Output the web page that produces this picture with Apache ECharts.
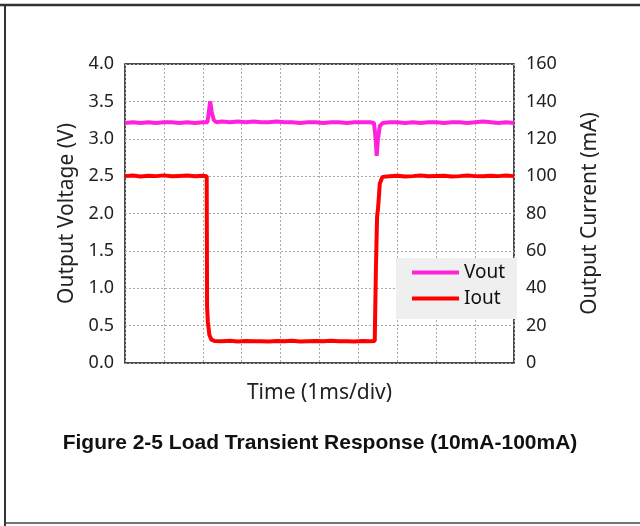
<!DOCTYPE html>
<html style="height: 100%">
<head>
    <meta charset="utf-8">
</head>
<body style="height: 100%; margin: 0; background: #fff">
<div id="container" style="width: 640px; height: 526px"></div>
<script src="https://cdn.jsdelivr.net/npm/echarts@6/dist/echarts.min.js"></script>
<script type="text/javascript">
    // time in ms (1 ms per division)
    var voutTime = [0, 0.2, 0.4, 0.6, 0.8, 1.0, 1.2, 1.4, 1.6, 1.8, 2.0, 2.12, 2.16, 2.19, 2.23, 2.28, 2.35,
        2.5, 2.7, 2.9, 3.1, 3.3, 3.5, 3.7, 3.9, 4.1, 4.3, 4.5, 4.7, 4.9, 5.1, 5.3, 5.5, 5.7, 5.9, 6.1, 6.3, 6.4,
        6.44, 6.47, 6.5, 6.55, 6.62, 6.8, 7.0, 7.2, 7.4, 7.6, 7.8, 8.0, 8.2, 8.4, 8.6, 8.8, 9.0, 9.2, 9.4, 9.6, 9.8, 10];
    var voutValue = [3.21, 3.22, 3.21, 3.22, 3.21, 3.22, 3.22, 3.21, 3.22, 3.21, 3.22, 3.22, 3.38, 3.50, 3.36, 3.25, 3.22,
        3.23, 3.22, 3.23, 3.22, 3.23, 3.22, 3.22, 3.23, 3.22, 3.22, 3.21, 3.22, 3.22, 3.21, 3.22, 3.22, 3.21, 3.22, 3.22, 3.22, 3.21,
        3.02, 2.77, 2.98, 3.17, 3.21, 3.22, 3.22, 3.21, 3.22, 3.21, 3.22, 3.22, 3.21, 3.22, 3.22, 3.21, 3.22, 3.23, 3.22, 3.21, 3.22, 3.21];

    var ioutTime = [0, 0.2, 0.4, 0.6, 0.8, 1.0, 1.2, 1.4, 1.6, 1.8, 2.0, 2.1, 2.11, 2.13, 2.17, 2.22, 2.3, 2.5,
        2.7, 2.9, 3.1, 3.3, 3.5, 3.7, 3.9, 4.1, 4.3, 4.5, 4.7, 4.9, 5.1, 5.3, 5.5, 5.7, 5.9, 6.1, 6.3, 6.42,
        6.45, 6.48, 6.51, 6.55, 6.62, 6.8, 7.0, 7.2, 7.4, 7.6, 7.8, 8.0, 8.2, 8.4, 8.6, 8.8, 9.0, 9.2, 9.4, 9.6, 9.8, 10];
    var ioutValue = [100, 100.3, 99.8, 100.2, 100, 100.4, 99.9, 100.1, 100.3, 99.9, 100.2, 100, 30, 22, 15, 12.5, 11.8, 11.6,
        11.9, 11.5, 11.8, 11.6, 11.7, 11.5, 11.8, 11.6, 11.9, 11.5, 11.7, 11.8, 11.6, 11.9, 11.6, 11.7, 11.5, 11.8, 11.6, 11.8,
        50, 78, 84, 96, 99.6, 99.9, 100.2, 99.8, 100, 100.3, 99.9, 100.1, 100.2, 99.8, 100, 100.3, 100, 99.9, 100.2, 100, 100.3, 100];

    var voltTicks = [0, 0.5, 1.0, 1.5, 2.0, 2.5, 3.0, 3.5, 4.0];
    var currTicks = [0, 20, 40, 60, 80, 100, 120, 140, 160];

    function pairs(xs, ys) {
        var out = [];
        for (var i = 0; i < xs.length; i++) out.push([xs[i], ys[i]]);
        return out;
    }

    var dom = document.getElementById("container");
    var myChart = echarts.init(dom);
    var labelFont = 'Noto Sans';

    var option = {
        backgroundColor: '#fff',
        animation: false,
        title: {
            text: 'Figure 2-5 Load Transient Response (10mA-100mA)',
            left: 'center',
            top: 428,
            textStyle: {fontFamily: 'Liberation Sans', fontWeight: 'bold', fontSize: 21, color: '#111'}
        },
        legend: {
            orient: 'vertical',
            left: 396,
            top: 258,
            width: 118,
            backgroundColor: '#efefef',
            padding: [5, 12, 11, 16],
            itemGap: 7,
            itemWidth: 47,
            itemHeight: 4,
            icon: 'rect',
            textStyle: {fontFamily: labelFont, fontSize: 19, color: '#111'},
            data: ['Vout', 'Iout']
        },
        grid: {
            left: 125, right: 126, top: 64, bottom: 163,
            show: true, borderColor: '#111', borderWidth: 1.5
        },
        xAxis: {
            type: 'value', min: 0, max: 10, interval: 1,
            name: 'Time (1ms/div)', nameLocation: 'middle', nameGap: 20,
            nameTextStyle: {fontFamily: labelFont, fontSize: 21, color: '#222'},
            axisLine: {show: false}, axisTick: {show: false}, axisLabel: {show: false},
            splitLine: {lineStyle: {color: '#aaa', type: [2, 2], width: 1}}
        },
        yAxis: [{
            type: 'value', min: voltTicks[0], max: voltTicks[voltTicks.length - 1], interval: 0.5,
            name: 'Output Voltage (V)', nameLocation: 'middle', nameGap: 46,
            nameTextStyle: {fontFamily: labelFont, fontSize: 21, color: '#222'},
            axisLine: {show: false}, axisTick: {show: false},
            axisLabel: {fontFamily: labelFont, fontSize: 18, color: '#222', margin: 11,
                formatter: function (v) { return v.toFixed(1); }},
            splitLine: {lineStyle: {color: '#aaa', type: [2, 2], width: 1}}
        }, {
            type: 'value', min: currTicks[0], max: currTicks[currTicks.length - 1], interval: 20,
            name: 'Output Current (mA)', nameLocation: 'middle', nameGap: 66,
            nameTextStyle: {fontFamily: labelFont, fontSize: 21, color: '#222'},
            axisLine: {show: false}, axisTick: {show: false},
            axisLabel: {fontFamily: labelFont, fontSize: 18, color: '#222', margin: 12},
            splitLine: {show: false}
        }],
        graphic: [
            {type: 'line', shape: {x1: 0, y1: 5, x2: 640, y2: 5}, style: {stroke: '#333', lineWidth: 2.5}},
            {type: 'line', shape: {x1: 5, y1: 4, x2: 5, y2: 526}, style: {stroke: '#333', lineWidth: 2}},
            {type: 'line', shape: {x1: 5, y1: 523, x2: 640, y2: 523}, style: {stroke: '#444', lineWidth: 1.5}}
        ],
        series: [{
            name: 'Vout', type: 'line', yAxisIndex: 0,
            data: pairs(voutTime, voutValue),
            showSymbol: false, color: '#ff22dd',
            lineStyle: {width: 4, color: '#ff22dd'}
        }, {
            name: 'Iout', type: 'line', yAxisIndex: 1,
            data: pairs(ioutTime, ioutValue),
            showSymbol: false, color: '#ff0000',
            lineStyle: {width: 4, color: '#ff0000'}
        }]
    };
    myChart.setOption(option);
</script>
</body>
</html>
